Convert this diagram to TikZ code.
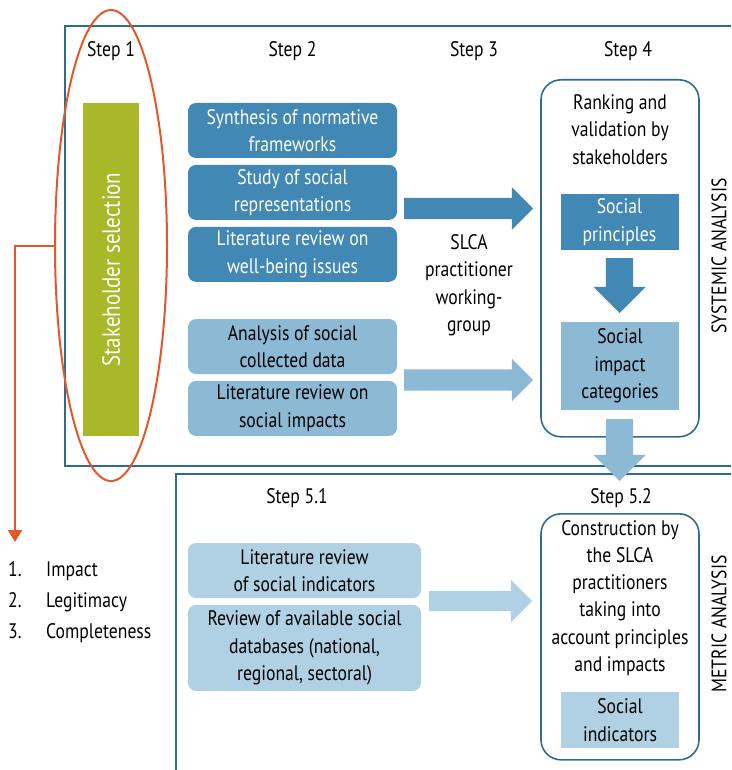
\documentclass[tikz,border=0pt]{standalone}
\usepackage{fontspec}
\setmainfont[FakeStretch=0.84]{PT Sans}
\usepackage{tikz}
\usetikzlibrary{shapes,arrows,arrows.meta,positioning}

\definecolor{frameblue}{HTML}{2F6B8F}
\definecolor{darkblue}{HTML}{4189B4}
\definecolor{midblue}{HTML}{8CBAD5}
\definecolor{paleblue}{HTML}{B0D1E3}
\definecolor{stakegreen}{HTML}{A8B828}
\definecolor{markorange}{HTML}{E2582A}

\begin{document}
\begin{tikzpicture}[x=1pt, y=-1pt, node distance=6.5pt,
  font=\fontsize{21}{27.5}\selectfont,
  frame/.style={draw=frameblue, line width=1.6pt},
  source/.style={rectangle, rounded corners=8pt, minimum width=209pt, minimum height=55pt, align=center, inner sep=0pt},
  dark/.style={source, fill=darkblue, text=white},
  mid/.style={source, fill=midblue},
  pale/.style={source, fill=paleblue, minimum width=233pt},
  result/.style={rectangle, minimum width=118pt, minimum height=56pt, align=center, inner sep=0pt},
  stepbox/.style={rectangle, draw=frameblue, line width=1.6pt, rounded corners=20pt, minimum width=158pt, inner sep=0pt},
  steplabel/.style={anchor=base, inner sep=0pt},
  blockarrow/.style={single arrow, draw=none, inner xsep=0pt, outer sep=0pt, anchor=tail},
  markarrow/.style={draw=markorange, line width=2pt, -{Triangle[length=12pt,width=14pt]}}]

  \useasboundingbox (0,0) rectangle (731,770);

  % frames
  \draw [frame] (731,26) -- (65,26) -- (65,466) -- (731,466);
  \draw [frame] (731,474) -- (176,474) -- (176,770);
  \node (systemic) [rotate=90, inner sep=0pt] at (719,256) {SYSTEMIC ANALYSIS};
  \node (metric) [rotate=90, inner sep=0pt] at (719,624) {METRIC ANALYSIS};

  % step titles
  \node (step1) [steplabel] at (111,57) {Step 1};
  \node (step2) [steplabel] at (292.5,57) {Step 2};
  \node (step3) [steplabel] at (474,57) {Step 3};
  \node (step4) [steplabel] at (628,57) {Step 4};
  \node (step51) [steplabel] at (297,503) {Step 5.1};
  \node (step52) [steplabel] at (621,503) {Step 5.2};

  % step 1
  \node (stake) [rectangle, rotate=90, fill=stakegreen, text=white, minimum width=333pt, minimum height=56pt, inner sep=0pt, font=\fontsize{25}{28}\selectfont] at (111,269.5) {Stakeholder selection};
  \node (sel) [ellipse, draw=markorange, line width=2pt, minimum width=112pt, minimum height=471pt, inner sep=0pt] at (111,245.5) {};
  \coordinate (listhead) at (15,542);
  \draw [markarrow] (sel.west) -| (listhead);
  \foreach \i/\crit in {1/Impact, 2/Legitimacy, 3/Completeness} {
    \node (num\i) [anchor=base west, inner sep=0pt] at (8,545+31*\i) {\i.};
    \node (crit\i) [anchor=base west, inner sep=0pt] at (46,545+31*\i) {\crit};
  }

  % step 2
  \node (norm) [dark] at (292.5,130.5) {Synthesis of normative\\frameworks};
  \node (repr) [dark, below=of norm] {Study of social\\representations};
  \node (wellb) [dark, below=of repr] {Literature review on\\well-being issues};
  \node (colldata) [mid] at (292.5,346.5) {Analysis of social\\collected data};
  \node (litimp) [mid, below=of colldata] {Literature review on\\social impacts};

  % step 3
  \node (group) [align=center, inner sep=0pt] at (469,285) {SLCA\\practitioner\\working-\\group};
  \node (toprinc) [blockarrow, fill=darkblue, inner ysep=10.5pt, single arrow head extend=10.5pt, minimum height=129pt] at (404,208.5) {};
  \node (toimp) [blockarrow, fill=midblue, inner ysep=10.5pt, single arrow head extend=10.5pt, minimum height=129pt] at (404,380) {};

  % step 4
  \node (rank) [stepbox, minimum height=357pt, anchor=north] at (620,79) {};
  \node (ranktxt) [align=center, inner sep=0pt] at (620,129.5) {Ranking and\\validation by\\stakeholders};
  \node (princ) [result, fill=darkblue, text=white] at (619.5,222) {Social\\principles};
  \node (impcat) [result, fill=midblue, minimum height=88pt] at (620,366) {Social\\impact\\categories};
  \node (princdown) [blockarrow, fill=darkblue, rotate=-90, inner ysep=13.5pt, single arrow head extend=12.5pt, minimum height=55pt] at (619.5,258) {};
  \node (metricdown) [blockarrow, fill=midblue, rotate=-90, inner ysep=13.5pt, single arrow head extend=12.5pt, minimum height=62pt] at (619.5,419) {};

  % step 5.1
  \node (indic) [pale] at (304.5,570.5) {Literature review\\of social indicators};
  \node (dbase) [pale, below=of indic, minimum height=86pt] {Review of available social\\databases (national,\\regional, sectoral)};
  \node (toconst) [blockarrow, fill=paleblue, inner ysep=10pt, single arrow head extend=11pt, minimum height=103pt] at (429,601) {};

  % step 5.2
  \node (constr) [stepbox, minimum height=246pt, anchor=north] at (620,513) {};
  \node (constrtxt) [align=center, inner sep=0pt, font=\fontsize{21}{27.2}\selectfont] at (620,598) {Construction by\\the SLCA\\practitioners\\taking into\\account principles\\and impacts};
  \node (socind) [result, fill=paleblue] at (620,720) {Social\\indicators};
\end{tikzpicture}
\end{document}
